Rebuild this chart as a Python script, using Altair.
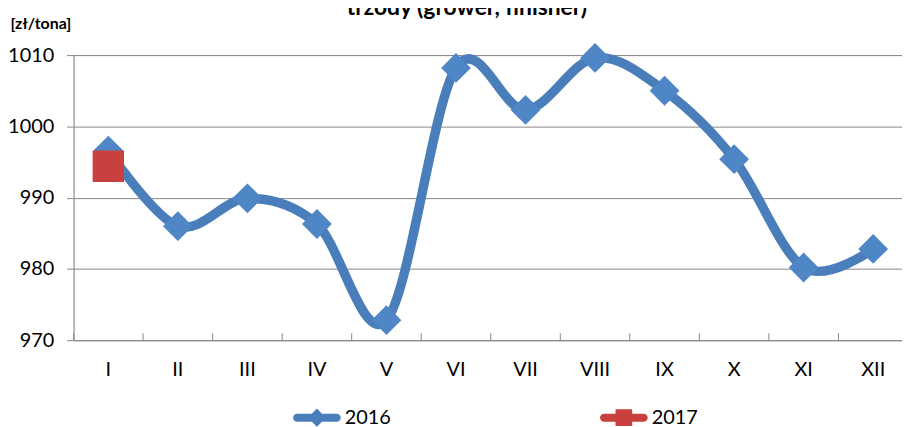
import altair as alt
import pandas as pd

months = ["I", "II", "III", "IV", "V", "VI", "VII", "VIII", "IX", "X", "XI", "XII"]
values_2016 = [996.6, 986.0, 989.9, 986.3, 972.8, 1008.2, 1002.3, 1009.6, 1005.0, 995.4, 980.2, 982.8]
months_2017 = ["I"]
values_2017 = [994.4]
series = ["2016", "2017"]
y_ticks = [970, 980, 990, 1000, 1010]
title_text = ["trzody (grower, finisher)"]

df16 = pd.DataFrame({"month": months, "value": values_2016, "year": "2016"})
df17 = pd.DataFrame({"month": months_2017, "value": values_2017, "year": "2017"})
df = pd.concat([df16, df17], ignore_index=True)
df_title = pd.DataFrame({"t": title_text})

W, H = 834, 287
GRAY = "#868686"
BLUE = "#4A7EBB"
RED = "#C8413F"

xscale = alt.Scale(type="band", domain=months, range=[0, 840], paddingInner=0, paddingOuter=0)
yscale = alt.Scale(domain=[970, 1010], nice=False, zero=False)

x_axis = alt.Axis(title=None, ticks=False, labelAngle=0, labelFontSize=20, labelPadding=20,
                  domainColor=GRAY, grid=False, labelColor="black", labelFont="Lato")
y_axis = alt.Axis(title="[zł/tona]", values=y_ticks, format="d", tickSize=7, tickColor=GRAY,
                  domainColor=GRAY, gridColor=GRAY, grid=True, labelFontSize=20, labelPadding=13,
                  labelColor="black", labelFont="Lato", titleAngle=0, titleAlign="left",
                  titleX=-64, titleY=-27, titleBaseline="alphabetic", titleFontSize=16,
                  titleFontWeight="bold", titleFont="Lato", titleColor="black")

x_enc = alt.X("month:N", scale=xscale, sort=months, bandPosition=0.5, axis=x_axis)
y_enc = alt.Y("value:Q", scale=yscale, axis=y_axis)

line = alt.Chart(df16).mark_line(interpolate="cardinal", strokeWidth=9.5, color=BLUE,
                                 strokeCap="round").encode(x=x_enc, y=y_enc)

ticks = alt.Chart(df16).mark_rule(color=GRAY, strokeWidth=1).encode(
    x=alt.X("month:N", scale=xscale, sort=months, bandPosition=0, axis=x_axis),
    y=alt.value(H - 7), y2=alt.value(H))

points = alt.Chart(df).mark_point(filled=True, opacity=1, strokeWidth=0).encode(
    x=x_enc, y=y_enc,
    shape=alt.Shape("year:N", scale=alt.Scale(domain=series, range=["diamond", "square"]), legend=None),
    color=alt.Color("year:N", scale=alt.Scale(domain=series, range=["#4F86C6", RED]), legend=None),
    size=alt.Size("year:N", scale=alt.Scale(domain=series, range=[900, 1000]), legend=None),
)

bar = "M-0.833,-0.167 L0.833,-0.167 A0.167,0.167 0 0 1 0.833,0.167 L-0.833,0.167 A0.167,0.167 0 0 1 -0.833,-0.167 Z"
sym16 = bar + " M0,-0.38 L0.38,0 L0,0.38 L-0.38,0 Z"
sym17 = bar + " M-0.35,-0.35 L0.35,-0.35 L0.35,0.35 L-0.35,0.35 Z"

leg = alt.Legend(title=None, orient="none", legendX=221, legendY=341, direction="horizontal",
                 columnPadding=210, labelFontSize=20, labelFont="Lato", labelColor="black",
                 labelOffset=4, symbolSize=2304, symbolStrokeWidth=0, padding=0)

legend_layer = alt.Chart(df).transform_filter(alt.datum.year == "none").mark_point(
    filled=True, opacity=1, strokeWidth=0, size=2304).encode(
    x=x_enc, y=y_enc,
    shape=alt.Shape("year:N", scale=alt.Scale(domain=series, range=[sym16, sym17]), legend=leg),
    color=alt.Color("year:N", scale=alt.Scale(domain=series, range=[BLUE, RED]), legend=leg),
)

title = alt.Chart(df_title).mark_text(font="Lato", fontSize=23, fontWeight="bold", color="black",
                                      align="center", baseline="alphabetic").encode(
    text="t:N", x=alt.value(396), y=alt.value(-40))

chart = alt.layer(ticks, line, points, legend_layer, title).resolve_scale(
    shape="independent", color="independent", size="independent"
).properties(
    width=W, height=H,
    autosize=alt.AutoSizeParams(type="none"),
    padding={"left": 66, "top": 46, "right": 0, "bottom": 86},
).configure_view(stroke=None).configure(font="Lato")

chart.save("out.html", embed_options={"renderer": "svg", "actions": False})
